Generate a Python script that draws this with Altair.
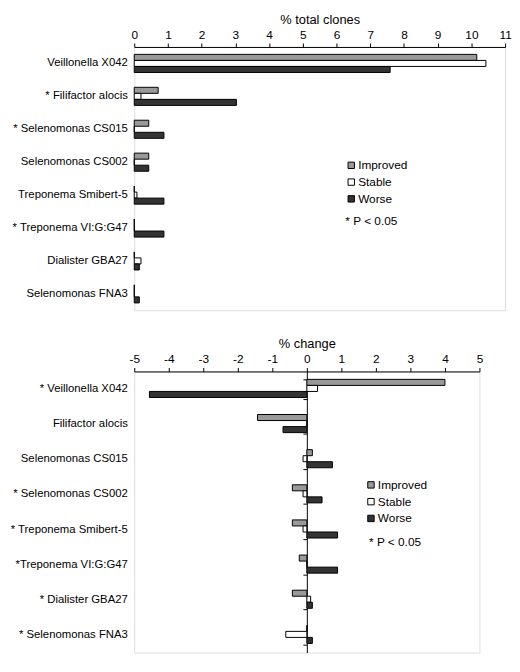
import altair as alt
import pandas as pd

series = ["Improved", "Stable", "Worse"]
colors = ["#999999", "#ffffff", "#333333"]

top_categories = ["Veillonella X042", "* Filifactor alocis", "* Selenomonas CS015",
                  "Selenomonas CS002", "Treponema Smibert-5", "* Treponema VI:G:G47",
                  "Dialister GBA27", "Selenomonas FNA3"]
top_improved = [10.16, 0.71, 0.43, 0.43, 0.0, 0.0, 0.0, 0.0]
top_stable = [10.43, 0.2, 0.0, 0.0, 0.08, 0.0, 0.2, 0.0]
top_worse = [7.59, 3.03, 0.88, 0.43, 0.88, 0.88, 0.15, 0.15]
top_ticks = [0, 1, 2, 3, 4, 5, 6, 7, 8, 9, 10, 11]
top_note = "*  P < 0.05"

bottom_categories = ["* Veillonella  X042", "Filifactor alocis", "Selenomonas CS015",
                     "* Selenomonas CS002", "* Treponema Smibert-5", "*Treponema VI:G:G47",
                     "* Dialister GBA27", "* Selenomonas FNA3"]
bottom_improved = [4.0, -1.43, 0.16, -0.42, -0.42, -0.22, -0.42, 0.0]
bottom_stable = [0.31, 0.0, -0.11, -0.11, -0.11, 0.0, 0.11, -0.61]
bottom_worse = [-4.56, -0.69, 0.74, 0.44, 0.89, 0.89, 0.16, 0.16]
bottom_ticks = [-5, -4, -3, -2, -1, 0, 1, 2, 3, 4, 5]
bottom_note = "* P < 0.05"


def long_df(cats, imp, sta, wor):
    rows = []
    for vals, s in zip([imp, sta, wor], series):
        for c, v in zip(cats, vals):
            rows.append({"category": c, "series": s, "value": v})
    return pd.DataFrame(rows)


def panel(cats, imp, sta, wor, ticks, title, note_text, w, h, legend_x, legend_y, note_x, note_y, zero_axis):
    df = long_df(cats, imp, sta, wor)
    yscale = alt.Scale(domain=cats, paddingInner=0.45, paddingOuter=0.225)
    bars = alt.Chart(df).mark_bar(stroke="black", strokeWidth=1).encode(
        y=alt.Y("category:N", sort=cats, scale=yscale,
                axis=alt.Axis(title=None, ticks=False, domain=False, labelFontSize=11.5,
                              labelPadding=7, minExtent=127, maxExtent=127, labelLimit=250,
                              labelColor="black")),
        yOffset=alt.YOffset("series:N", sort=series, scale=alt.Scale(domain=series, paddingInner=0, paddingOuter=0)),
        x=alt.X("value:Q", stack=None,
                scale=alt.Scale(domain=[ticks[0], ticks[-1]], nice=False, zero=False),
                axis=alt.Axis(orient="top", values=ticks, title=title, grid=False,
                              labelExpr="'' + datum.value", labelOverlap=False,
                              labelFontSize=12, titleFontSize=13, titleFontWeight="normal",
                              labelColor="black", titleColor="black", domainColor="black",
                              tickColor="black", tickSize=4, labelPadding=2, titlePadding=2,
                              labelFlush=False)),
        color=alt.Color("series:N", scale=alt.Scale(domain=series, range=colors),
                        legend=alt.Legend(orient="none", legendX=legend_x, legendY=legend_y,
                                          title=None, symbolType="square", symbolSize=42,
                                          symbolStrokeColor="black", symbolStrokeWidth=1,
                                          labelFontSize=12, labelColor="black", rowPadding=5,
                                          labelOffset=1, padding=0)),
    )
    note = alt.Chart(pd.DataFrame({"t": [note_text]})).mark_text(
        align="left", baseline="middle", fontSize=12, color="black"
    ).encode(text="t:N", x=alt.value(note_x), y=alt.value(note_y))
    layers = [bars, note]
    if zero_axis:
        zero = alt.Chart(df).mark_point(opacity=0).encode(
            y=alt.Y("category:N", sort=cats, scale=yscale,
                    axis=alt.Axis(orient="left", offset=-w / 2, labels=False, ticks=True,
                                  tickBand="extent", tickSize=4, domain=True, title=None,
                                  domainColor="black", tickColor="black", grid=False,
                                  minExtent=0, maxExtent=0)),
        )
        layers.append(zero)
    ch = alt.layer(*layers).properties(width=w, height=h)
    if zero_axis:
        ch = ch.resolve_axis(y="independent")
    return ch


top = panel(top_categories, top_improved, top_stable, top_worse, top_ticks,
            "% total clones", top_note, 376, 267, 214, 114, 214, 177, False)
bottom = panel(bottom_categories, bottom_improved, bottom_stable, bottom_worse, bottom_ticks,
               "% change", bottom_note, 350, 285, 234, 109, 238, 173, True)

chart = alt.vconcat(top, bottom, spacing=26).resolve_legend(color="independent").configure_view(
    stroke="black", strokeWidth=1
).configure(font="Liberation Sans").properties(padding=0)

chart.save("out.html", embed_options={"renderer": "svg", "actions": False})
